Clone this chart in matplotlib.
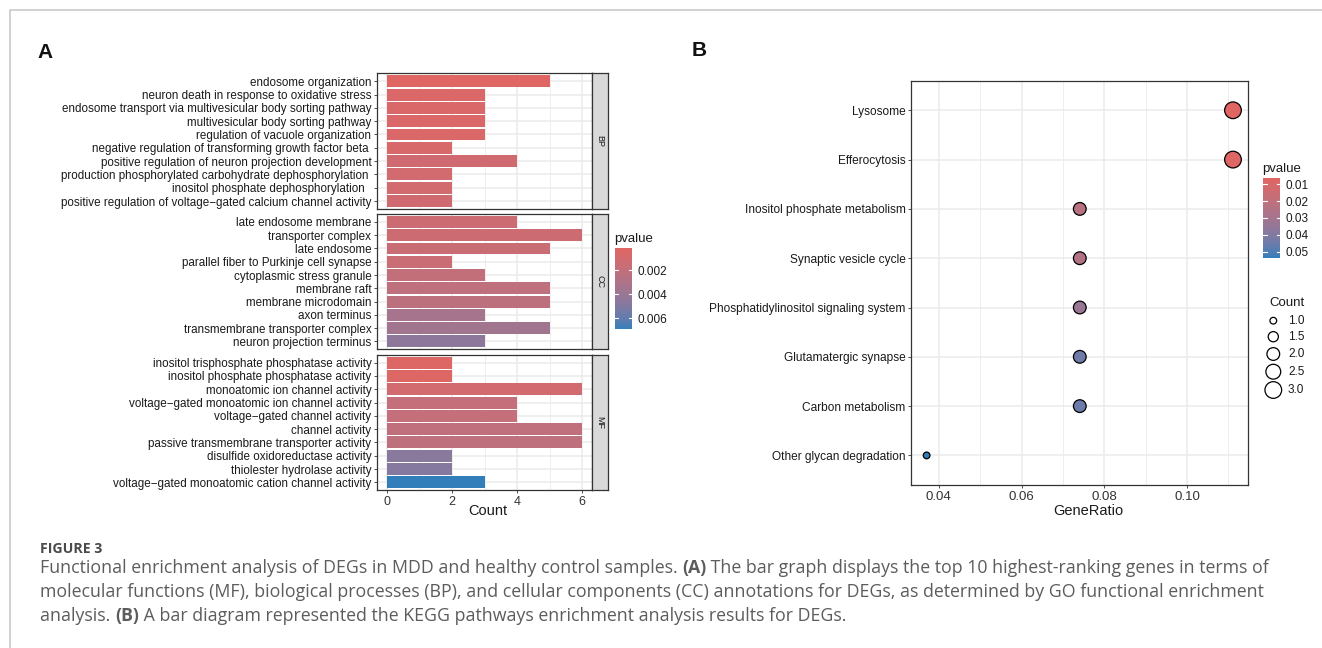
import numpy as np
import matplotlib
matplotlib.use("Agg")
import matplotlib.pyplot as plt
from matplotlib.colors import LinearSegmentedColormap

# ---------------- data ----------------
bp_terms = ["endosome organization", "neuron death in response to oxidative stress",
            "endosome transport via multivesicular body sorting pathway",
            "multivesicular body sorting pathway", "regulation of vacuole organization",
            "negative regulation of transforming growth factor beta ",
            "positive regulation of neuron projection development",
            "production phosphorylated carbohydrate dephosphorylation ",
            "inositol phosphate dephosphorylation  ",
            "positive regulation of voltage−gated calcium channel activity"]
bp_counts = [5, 3, 3, 3, 3, 2, 4, 2, 2, 2]
bp_pvalue = [0.0002, 0.0006, 0.0006, 0.0006, 0.0006, 0.0007, 0.0012, 0.0011, 0.0011, 0.0012]

cc_terms = ["late endosome membrane", "transporter complex", "late endosome",
            "parallel fiber to Purkinje cell synapse", "cytoplasmic stress granule",
            "membrane raft", "membrane microdomain", "axon terminus",
            "transmembrane transporter complex", "neuron projection terminus"]
cc_counts = [4, 6, 5, 2, 3, 5, 5, 3, 5, 3]
cc_pvalue = [0.0014, 0.0014, 0.0016, 0.0015, 0.0020, 0.0022, 0.0023, 0.0034, 0.0036, 0.0045]

mf_terms = ["inositol trisphosphate phosphatase activity", "inositol phosphate phosphatase activity",
            "monoatomic ion channel activity", "voltage−gated monoatomic ion channel activity",
            "voltage−gated channel activity", "channel activity",
            "passive transmembrane transporter activity", "disulfide oxidoreductase activity",
            "thiolester hydrolase activity", "voltage−gated monoatomic cation channel activity"]
mf_counts = [2, 2, 6, 4, 4, 6, 6, 2, 2, 3]
mf_pvalue = [0.0004, 0.0004, 0.0011, 0.0019, 0.0019, 0.0021, 0.0022, 0.0047, 0.0048, 0.0069]

facet_names = ["BP", "CC", "MF"]
a_ticks = [0, 2, 4, 6]
a_cbar_ticks = [0.002, 0.004, 0.006]

kegg_terms = ["Lysosome", "Efferocytosis", "Inositol phosphate metabolism",
              "Synaptic vesicle cycle", "Phosphatidylinositol signaling system",
              "Glutamatergic synapse", "Carbon metabolism", "Other glycan degradation"]
kegg_counts = [3, 3, 2, 2, 2, 2, 2, 1]
kegg_total = 27
kegg_pvalue = [0.0064, 0.0075, 0.0225, 0.0245, 0.0330, 0.0445, 0.0450, 0.0536]
b_ticks = [0.04, 0.06, 0.08, 0.10]
b_cbar_ticks = [0.01, 0.02, 0.03, 0.04, 0.05]
b_size_legend = [1.0, 1.5, 2.0, 2.5, 3.0]

caption_head = "FIGURE 3"
caption_lines = [
    [("Functional enrichment analysis of DEGs in MDD and healthy control samples. ", False),
     ("(A)", True),
     (" The bar graph displays the top 10 highest-ranking genes in terms of", False)],
    [("molecular functions (MF), biological processes (BP), and cellular components (CC) "
      "annotations for DEGs, as determined by GO functional enrichment", False)],
    [("analysis. ", False), ("(B)", True),
     (" A bar diagram represented the KEGG pathways enrichment analysis results for DEGs.", False)],
]

# ---------------- colours (Lab interpolation like ggplot) ----------------
def _srgb_to_lin(c):
    c = np.asarray(c, float)
    return np.where(c <= 0.04045, c / 12.92, ((c + 0.055) / 1.055) ** 2.4)

def _lin_to_srgb(c):
    c = np.clip(c, 0, 1)
    return np.where(c <= 0.0031308, 12.92 * c, 1.055 * c ** (1 / 2.4) - 0.055)

M = np.array([[0.4124, 0.3576, 0.1805], [0.2126, 0.7152, 0.0722], [0.0193, 0.1192, 0.9505]])
WP = np.array([0.95047, 1.0, 1.08883])

def _f(t):
    d = 6 / 29
    return np.where(t > d ** 3, np.cbrt(t), t / (3 * d * d) + 4 / 29)

def _finv(t):
    d = 6 / 29
    return np.where(t > d, t ** 3, 3 * d * d * (t - 4 / 29))

def rgb2lab(rgb):
    xyz = M @ _srgb_to_lin(rgb) / WP
    fx, fy, fz = _f(xyz)
    return np.array([116 * fy - 16, 500 * (fx - fy), 200 * (fy - fz)])

def lab2rgb(lab):
    L, a, b = lab
    fy = (L + 16) / 116
    fx = fy + a / 500
    fz = fy - b / 200
    xyz = np.array([_finv(fx), _finv(fy), _finv(fz)]) * WP
    return _lin_to_srgb(np.linalg.solve(M, xyz))

low = np.array([0xE0, 0x66, 0x63]) / 255
high = np.array([0x32, 0x7E, 0xBA]) / 255
la, lb = rgb2lab(low), rgb2lab(high)
cols = [lab2rgb(la + (lb - la) * t) for t in np.linspace(0, 1, 32)]
cmap = LinearSegmentedColormap.from_list("enrich", cols)

# ---------------- figure ----------------
W, H = 1322, 648
fig = plt.figure(figsize=(W / 100, H / 100), dpi=100)
plt.rcParams["font.family"] = ["Liberation Sans", "DejaVu Sans"]

def ax_px(l, t, r, b, **kw):
    return fig.add_axes([l / W, 1 - b / H, (r - l) / W, (b - t) / H], **kw)

ov = fig.add_axes([0, 0, 1, 1], zorder=-5)
ov.set_xlim(0, W)
ov.set_ylim(H, 0)
ov.axis("off")
ov.plot([10, 10, W + 5], [H + 5, 10, 10], color="#C9C9C9", lw=1.2, solid_capstyle="butt")

BORDER = "#333333"
GRID = "#EBEBEB"
TXT = "#1A1A1A"
LAB_A = 8.35
LAB_B = 8.55

# ---------------- Panel A ----------------
ov.text(37, 53, "A", fontsize=15, fontweight="bold", ha="left", va="center", color="#111111")

a_all_p = bp_pvalue + cc_pvalue + mf_pvalue
a_vmin, a_vmax = min(a_all_p), max(a_all_p)

facets = [(bp_terms, bp_counts, bp_pvalue, 73.3, 209.0),
          (cc_terms, cc_counts, cc_pvalue, 214.0, 349.3),
          (mf_terms, mf_counts, mf_pvalue, 354.7, 490.3)]
for k, (terms, counts, pv, top, bot) in enumerate(facets):
    ax = ax_px(377, top, 592, bot)
    n = len(terms)
    y = np.arange(n)[::-1]
    colors = cmap((np.array(pv) - a_vmin) / (a_vmax - a_vmin))
    for xv in [1, 3, 5]:
        ax.axvline(xv, color=GRID, lw=0.6, zorder=0)
    for xv in a_ticks:
        ax.axvline(xv, color=GRID, lw=1.1, zorder=0)
    for yv in y:
        ax.axhline(yv, color=GRID, lw=1.1, zorder=0)
    ax.barh(y, counts, height=0.9, color=colors, zorder=2)
    ax.set_xlim(-0.3, 6.3)
    ax.set_ylim(-0.6, n - 0.4)
    ax.set_yticks(y)
    ax.set_yticklabels(terms)
    ax.tick_params(axis="y", length=2.5, width=0.6, color=BORDER, pad=1.5,
                   labelsize=LAB_A, labelcolor=TXT)
    ax.set_xticks(a_ticks)
    if k == len(facets) - 1:
        ax.tick_params(axis="x", length=2.5, width=0.6, color=BORDER, pad=1.5,
                       labelsize=9, labelcolor="#333333")
    else:
        ax.tick_params(axis="x", length=0, labelbottom=False)
    for s in ax.spines.values():
        s.set_color(BORDER)
        s.set_linewidth(0.9)
    st = ax_px(592, top, 608, bot)
    st.set_facecolor("#D9D9D9")
    st.set_xticks([])
    st.set_yticks([])
    for s in st.spines.values():
        s.set_color(BORDER)
        s.set_linewidth(0.9)
    st.text(0.5, 0.5, facet_names[k], rotation=-90, ha="center", va="center",
            fontsize=6.5, color=TXT, transform=st.transAxes)

ov.text(488, 511, "Count", fontsize=10.5, ha="center", va="center", color=TXT)

def colorbar(l, t, r, b, vmin, vmax, ticks, fmt, title, tx, ty):
    cax = ax_px(l, t, r, b)
    yy = np.linspace(vmin, vmax, 257)
    C = ((yy[:-1] + yy[1:]) / 2)[:, None]
    cax.pcolormesh([0, 1], yy, C, cmap=cmap, vmin=vmin, vmax=vmax, shading="flat")
    cax.set_ylim(vmax, vmin)
    cax.set_xlim(0, 1)
    cax.set_xticks([])
    cax.yaxis.tick_right()
    cax.set_yticks(ticks)
    cax.set_yticklabels([fmt.format(v) for v in ticks])
    cax.tick_params(axis="y", length=0, pad=4, labelsize=8.5, labelcolor=TXT)
    for s in cax.spines.values():
        s.set_visible(False)
    for v in ticks:
        cax.plot([0, 0.2], [v, v], color="white", lw=0.8)
        cax.plot([0.8, 1], [v, v], color="white", lw=0.8)
    ov.text(tx, ty, title, fontsize=9.5, ha="left", va="center", color=TXT)

colorbar(615, 248.3, 632.3, 329.3, a_vmin, a_vmax, a_cbar_ticks, "{:.3f}", "pvalue", 614, 239)

# ---------------- Panel B ----------------
ov.text(692, 50, "B", fontsize=15, fontweight="bold", ha="left", va="center", color="#111111")

bx = ax_px(911.3, 80.7, 1248.3, 485)
ratio = np.array(kegg_counts) / kegg_total
nb = len(kegg_terms)
yb = np.arange(1, nb + 1)[::-1]

def size_of(c):
    c = np.asarray(c, float)
    return 0.5184 * (44.9 + 117.0 * (c - 1.0))

for xv in [0.05, 0.07, 0.09, 0.11]:
    bx.axvline(xv, color=GRID, lw=0.6, zorder=0)
for xv in b_ticks:
    bx.axvline(xv, color=GRID, lw=1.1, zorder=0)
for yv in yb:
    bx.axhline(yv, color=GRID, lw=1.1, zorder=0)

b_vmin, b_vmax = min(kegg_pvalue), max(kegg_pvalue)
bx.scatter(ratio, yb, s=size_of(kegg_counts), c=kegg_pvalue, cmap=cmap, vmin=b_vmin, vmax=b_vmax,
           edgecolors="black", linewidths=0.9, zorder=3)
span = ratio.max() - ratio.min()
bx.set_xlim(ratio.min() - 0.05 * span, ratio.max() + 0.05 * span)
bx.set_ylim(0.4, nb + 0.6)
bx.set_yticks(yb)
bx.set_yticklabels(kegg_terms)
bx.set_xticks(b_ticks)
bx.set_xticklabels(["{:.2f}".format(v) for v in b_ticks])
bx.tick_params(axis="y", length=2.5, width=0.6, color=BORDER, pad=1.5, labelsize=LAB_B, labelcolor=TXT)
bx.tick_params(axis="x", length=2.5, width=0.6, color=BORDER, pad=1.5, labelsize=9.5, labelcolor="#333333")
for s in bx.spines.values():
    s.set_color(BORDER)
    s.set_linewidth(0.9)
ov.text(1088, 511, "GeneRatio", fontsize=10.5, ha="center", va="center", color=TXT)

colorbar(1263.3, 178.3, 1280, 257.7, b_vmin, b_vmax, b_cbar_ticks, "{:.2f}", "pvalue", 1262, 169)

ov.text(1269, 303, "Count", fontsize=9.5, ha="left", va="center", color=TXT)
leg_y = [320.7, 336.7, 354.0, 371.7, 390.0]
ov.scatter([1273.3] * len(b_size_legend), leg_y, s=size_of(b_size_legend), facecolors="white",
           edgecolors="black", linewidths=0.9)
for v, yy_ in zip(b_size_legend, leg_y):
    ov.text(1288, yy_, "{:.1f}".format(v), fontsize=8.5, ha="left", va="center", color=TXT)

# ---------------- Caption ----------------
CAP = "#5C5C5C"
cap_font = ["Open Sans", "DejaVu Sans"]
ov.text(40, 549, caption_head, fontsize=10.2, fontweight="bold", ha="left", va="center",
        color="#4A4A4A", family=cap_font)

renderer = fig.canvas.get_renderer()
def rich_line(x0, y0, parts, size=12.8):
    x = x0
    for txt, bold in parts:
        t = ov.text(x, y0, txt, fontsize=size, ha="left", va="center", color=CAP,
                    family=cap_font, fontweight="bold" if bold else "normal")
        x += t.get_window_extent(renderer).width

for i, parts in enumerate(caption_lines):
    rich_line(40, 568 + 24 * i, parts)

fig.savefig("out.png", dpi=100)
